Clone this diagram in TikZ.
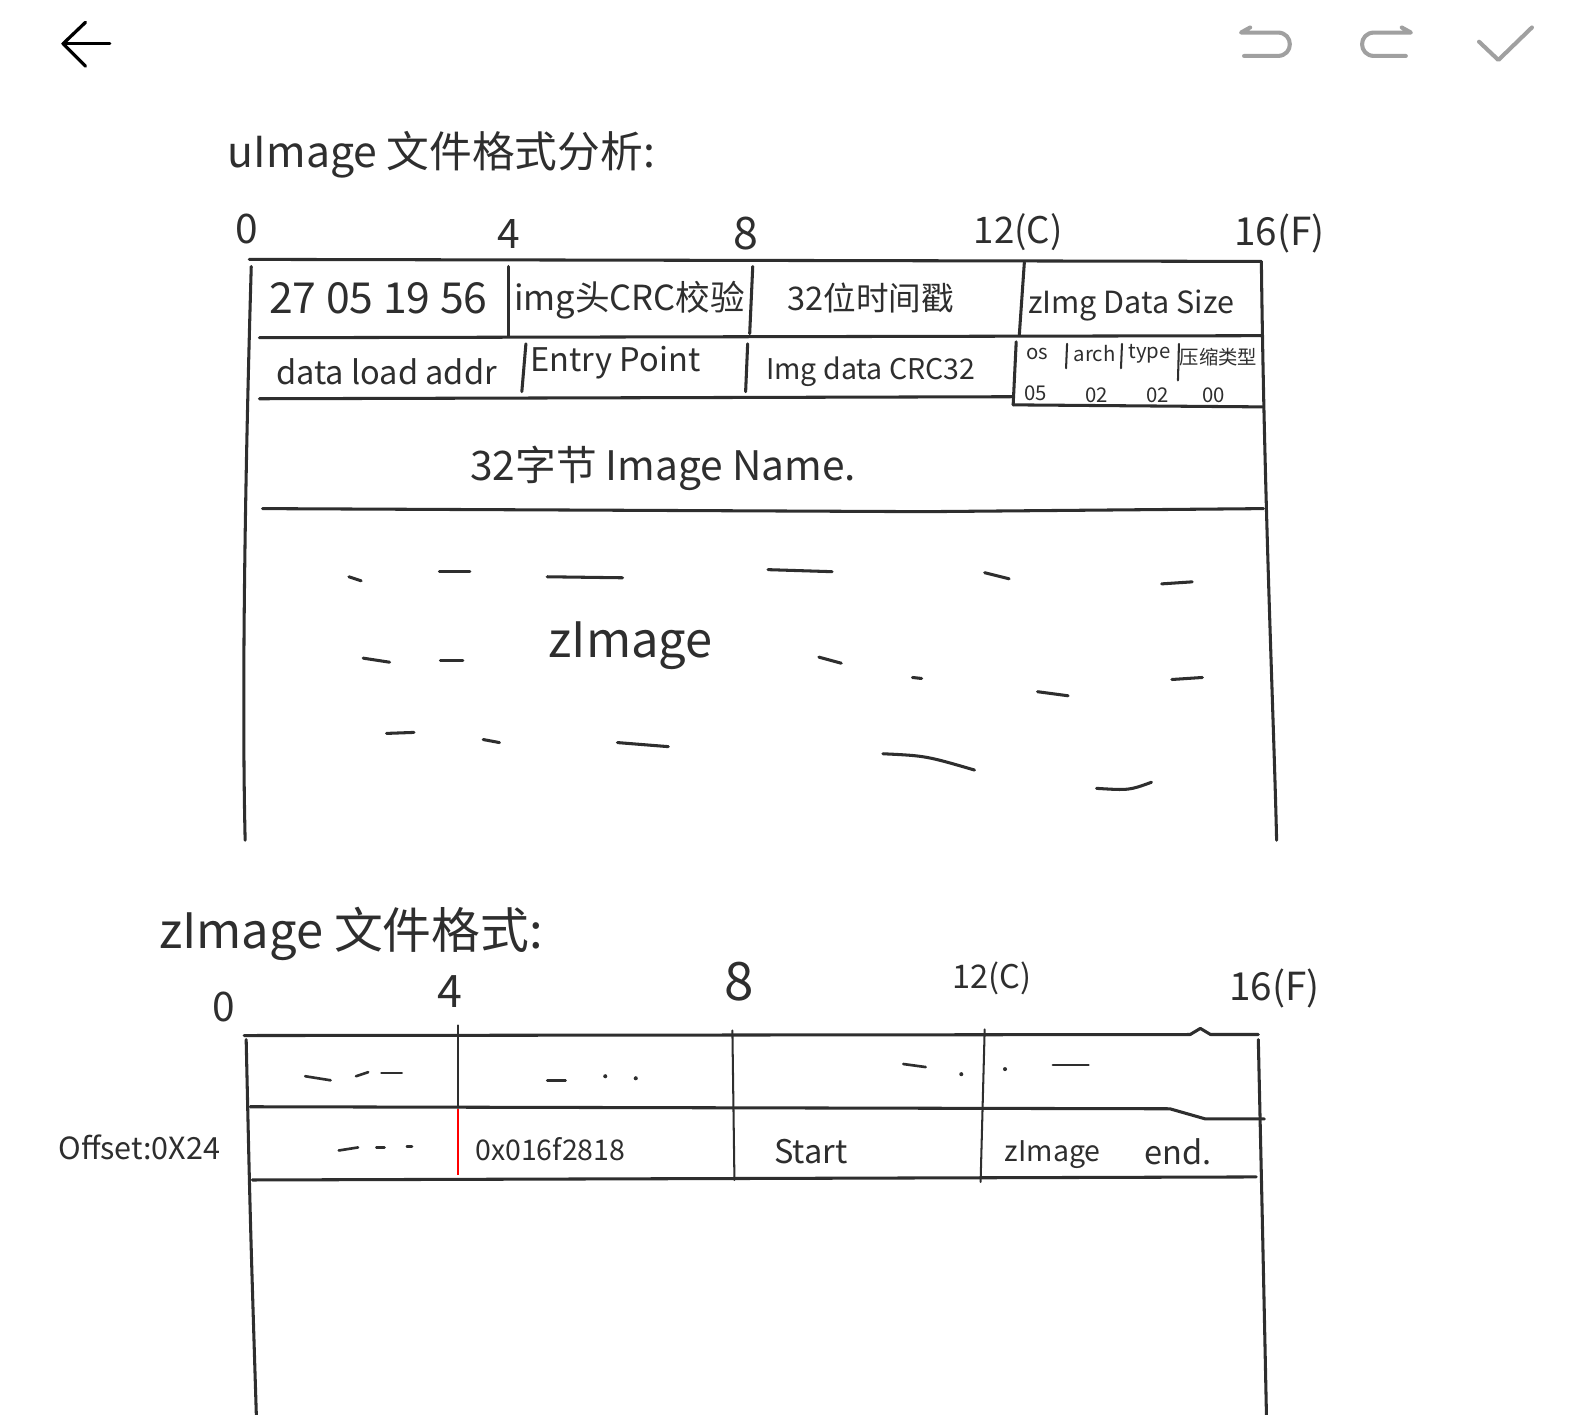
\documentclass[tikz,border=0pt]{standalone}
\usepackage{fontspec}
\newfontfamily\cjk{Noto Sans CJK SC}
\newcommand{\hand}[1]{\fontsize{#1}{#1}\selectfont\cjk}
\definecolor{ink}{HTML}{2E2E2E}
\definecolor{icon}{HTML}{A0A0A0}
\tikzset{
  pen/.style={line width=1.5pt, draw=ink, line cap=round, line join=round},
  thinpen/.style={line width=1pt, draw=ink, line cap=round},
  iconpen/.style={icon, line width=2pt, line cap=round, line join=round},
  note/.style={inner sep=0pt, text=ink},
}

\begin{document}
\begin{tikzpicture}
  [x=0.5pt, y=-0.5pt]
  \useasboundingbox (0,0) rectangle (1568,1391);

  % top bar
  \draw[line width=1.6pt, line cap=round] (108,43) -- (62,43);
  \draw[line width=1.6pt, line cap=round, line join=round] (84,22) -- (62,43) -- (84,65);
  \draw[iconpen] (1229,27) -- (1220,32) -- (1256,32)
    .. controls (1272,32) and (1272,55) .. (1256,55) -- (1223,55);
  \draw[iconpen] (1378,27) -- (1387,32) -- (1351,32)
    .. controls (1335,32) and (1335,55) .. (1351,55) -- (1382,55);
  \draw[iconpen] (1454,41) -- (1473,59) -- (1506,27);

  % uImage header table
  \node[note] (title1) at (434,152) {\hand{21}uImage 文件格式分析:};
  \node[note] (u0)  at (243,225) {\hand{20}0};
  \node[note] (u4)  at (500,230) {\hand{20}4};
  \node[note] (u8)  at (733,230) {\hand{22}8};
  \node[note] (u12) at (1001,228) {\hand{18}12(C)};
  \node[note] (u16) at (1258,230) {\hand{19}16(F)};

  \coordinate (uTL) at (245,255);
  \coordinate (uTR) at (1240,257);
  \coordinate (uBL) at (241,826);
  \coordinate (uBR) at (1255,826);
  \draw[pen] (uTL) -- (uTR);
  \draw[pen] (247,262) .. controls (240,500) and (238,700) .. (uBL);
  \draw[pen] (1240,257) .. controls (1243,500) and (1252,700) .. (uBR);
  \draw[pen] (255,332) -- (1240,330);
  \draw[pen] (255,392) -- (996,390);
  \draw[pen] (996,398) -- (1241,400);
  \draw[pen] (258,500) -- (910,503) -- (1242,500);
  % column dividers
  \draw[pen] (500,262) -- (500,330);
  \draw[pen] (517,338) -- (513,385);
  \draw[pen] (740,262) -- (737,328);
  \draw[pen] (735,338) -- (733,385);
  \draw[pen] (1007,258) -- (1002,330);
  \draw[pen] (999,336) -- (996,398);
  \draw[thinpen] (1049,338) -- (1048,362);
  \draw[thinpen] (1103,338) -- (1102,362);
  \draw[thinpen] (1159,338) -- (1158,374);

  \node[note] (magic)  at (372,293) {\hand{21}27 05 19 56};
  \node[note] (hcrc)   at (619,295) {\hand{17}img头CRC校验};
  \node[note] (tstamp) at (856,293) {\hand{16}32位时间戳};
  \node[note] (dsize)  at (1112,300) {\hand{15}zImg Data Size};
  \node[note] (load)   at (380,365) {\hand{16}data load addr};
  \node[note] (entry)  at (605,357) {\hand{16}Entry Point};
  \node[note] (dcrc)   at (856,365) {\hand{14}Img data CRC32};
  \node[note] (os)     at (1020,348) {\hand{10}os};
  \node[note] (arch)   at (1076,348) {\hand{10}arch};
  \node[note] (type)   at (1130,348) {\hand{10}type};
  \node[note] (comp)   at (1198,351) {\hand{9.5}压缩类型};
  \node[note] (vos)    at (1018,387) {\hand{10}05};
  \node[note] (varch)  at (1078,389) {\hand{10}02};
  \node[note] (vtype)  at (1138,389) {\hand{10}02};
  \node[note] (vcomp)  at (1193,389) {\hand{10}00};
  \node[note] (iname)  at (652,460) {\hand{20}32字节 Image Name.};
  \node[note] (zimg)   at (620,635) {\hand{24}zImage};

  % scribbled payload
  \foreach \a/\b/\c/\d in {343/567/355/571, 432/562/462/562, 538/567/612/568,
      755/560/818/562, 968/563/992/569, 1142/574/1172/572,
      357/647/383/651, 433/649/455/649, 805/646/827/652, 897/666/906/667,
      1020/680/1050/684, 1152/668/1182/666,
      380/721/407/720, 475/727/491/730, 607/730/657/734}
    \draw[pen] (\a,\b) -- (\c,\d);
  \draw[pen] (868,741) .. controls (910,743) .. (958,757);
  \draw[pen] (1078,775) .. controls (1110,777) .. (1132,769);

  % zImage table
  \node[note] (title2) at (345,918) {\hand{24}zImage 文件格式:};
  \node[note] (z0)  at (220,990) {\hand{20}0};
  \node[note] (z4)  at (442,975) {\hand{22}4};
  \node[note] (z8)  at (727,965) {\hand{26}8};
  \node[note] (z12) at (975,962) {\hand{16}12(C)};
  \node[note] (z16) at (1253,972) {\hand{19}16(F)};

  \coordinate (zTL) at (240,1018);
  \coordinate (zTR) at (1237,1017);
  \draw[pen] (zTL) -- (1170,1017) -- (1180,1011) -- (1190,1017) -- (zTR);
  \draw[pen] (242,1022) .. controls (246,1200) .. (252,1391);
  \draw[pen] (1237,1022) .. controls (1241,1200) .. (1245,1391);
  \draw[pen] (246,1088) -- (1150,1090) -- (1185,1100) -- (1243,1100);
  \draw[pen] (248,1160) -- (1235,1157);
  \draw[thinpen] (450,1008) -- (450,1089);
  \draw[red, line width=1pt] (450,1090) -- (450,1155);
  \draw[thinpen] (720,1013) -- (722,1160);
  \draw[thinpen] (968,1012) -- (964,1162);

  \foreach \a/\b/\c/\d in {300/1058/325/1062, 350/1058/362/1054, 375/1055/395/1055,
      538/1062/556/1062, 888/1046/910/1049, 1035/1047/1070/1047,
      333/1131/352/1128, 370/1128/378/1128, 400/1127/405/1127}
    \draw[thinpen, line width=1.3pt] (\a,\b) -- (\c,\d);
  \foreach \p in {(595,1058), (625,1060), (945,1056), (988,1051)}
    \fill[ink] \p circle[radius=2];

  \node[note] (offset) at (137,1128) {\hand{15}Offset:0X24};
  \node[note] (zsize)  at (541,1130) {\hand{14}0x016f2818};
  \node[note] (zstart) at (797,1132) {\hand{16}Start};
  \node[note] (zname)  at (1035,1135) {\hand{14}zImage};
  \node[note] (zend)   at (1158,1132) {\hand{16}end.};
\end{tikzpicture}
\end{document}
